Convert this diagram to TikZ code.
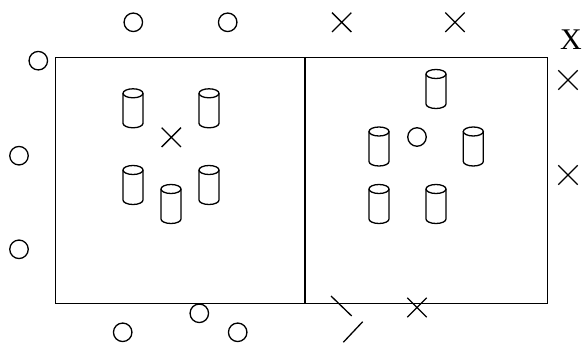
\documentclass[tikz,border=0pt]{standalone}
\usepackage{fontspec}
\setmainfont{Liberation Serif}
\usetikzlibrary{shapes.misc}
\begin{document}
\begin{tikzpicture}[x=1pt,y=-1pt,
  ring/.style={circle,draw,line width=1.3pt,minimum size=18.5pt,inner sep=0pt},
  xmark/.style={cross out,draw,line width=1.3pt,minimum size=18pt,inner sep=0pt},
  wall/.style={line width=1.5pt},
  tick/.style={line width=1.3pt},
  cyl/.pic={\draw[line width=1.3pt] (-10,-15) -- (-10,15) arc[start angle=180,end angle=0,x radius=10,y radius=4.5] -- (10,-15);
            \draw[line width=1.3pt] (0,-15) ellipse[x radius=10,y radius=4.5];}]
\useasboundingbox (0,0) rectangle (584,344);
% field
\coordinate (tl) at (55.3,57.3);
\coordinate (br) at (547.3,303.3);
\coordinate (mt) at (305,57.3);
\coordinate (mb) at (305,303.3);
\draw[wall] (tl) rectangle (br);
\draw[wall] (mt) -- (mb);
% left half cylinders
\pic (cl1) at (133,108.3) {cyl};
\pic (cl2) at (209,108.3) {cyl};
\pic (cl3) at (133,185) {cyl};
\pic (cl4) at (171,204) {cyl};
\pic (cl5) at (209,185) {cyl};
% right half cylinders
\pic (cr1) at (436,89) {cyl};
\pic (cr2) at (379,146.5) {cyl};
\pic (cr3) at (473.3,146.5) {cyl};
\pic (cr4) at (379,204) {cyl};
\pic (cr5) at (436,204) {cyl};
% circles
\node[ring] (o1) at (133.3,22.3) {};
\node[ring] (o2) at (227.7,22.3) {};
\node[ring] (o3) at (38.3,60.7) {};
\node[ring] (o4) at (19,155.7) {};
\node[ring] (o5) at (19,249.3) {};
\node[ring] (o6) at (199.3,313.3) {};
\node[ring] (o7) at (122.7,332.3) {};
\node[ring] (o8) at (237.7,332.3) {};
\node[ring] (o9) at (417,137) {};
% crosses
\node[xmark] (x1) at (171.3,137.3) {};
\node[xmark] (x2) at (341.7,22.3) {};
\node[xmark] (x3) at (455,22.3) {};
\node[xmark] (x4) at (568,80) {};
\node[xmark] (x5) at (568,175) {};
\node[xmark] (x6) at (417,307.5) {};
% broken cross
\coordinate (s1a) at (331,296);
\coordinate (s1b) at (351.7,316);
\coordinate (s2a) at (343.3,342.3);
\coordinate (s2b) at (362.7,321.7);
\draw[tick] (s1a) -- (s1b);
\draw[tick] (s2a) -- (s2b);
% label
\node[inner sep=0pt,font=\fontsize{30pt}{30pt}\selectfont] (lx) at (571,39.5) {X};
\end{tikzpicture}
\end{document}
